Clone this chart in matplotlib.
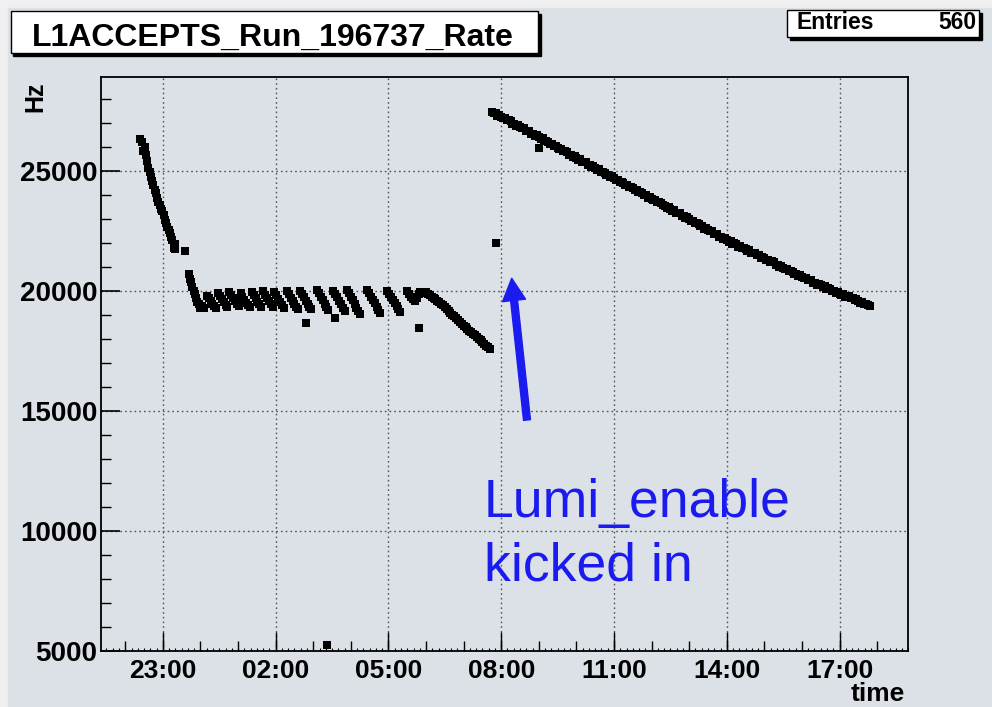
import matplotlib
matplotlib.use("Agg")
import matplotlib.pyplot as plt
from matplotlib.patches import Rectangle
from matplotlib.ticker import FixedLocator, MultipleLocator

plt.rcParams['font.family'] = ['Liberation Sans', 'DejaVu Sans']

# time in minutes relative to 00:00 of the second day, rate in Hz
t_fall = [-96, -93, -91, -89, -87, -85, -83, -81, -79, -77, -75, -73, -71, -69, -67,
          -65, -63, -61, -59, -57, -55, -53, -51, -49, -47, -45, -43, -41, -40]
r_fall = [26300, 26200, 25800, 26000, 25650, 25400, 25100, 24950, 24750, 24550, 24400,
          24200, 24050, 23850, 23700, 23550, 23400, 23300, 23150, 22950, 22800, 22650,
          22550, 22400, 22250, 22100, 21800, 21950, 21750]

t_settle = [-19, -17, -15, -13, -11, -9, -7, -5, -3, 0, 3, 6]
r_settle = [20700, 20500, 20350, 20150, 20000, 19850, 19700, 19550, 19450, 19300, 19350, 19300]

t_plateau = [10, 13, 16, 19, 22, 25,
             28, 31, 34, 37, 40, 43,
             46, 49, 52, 55, 58, 61,
             64, 67, 70, 73, 76, 79,
             82, 85, 88, 91, 94, 97,
             100, 103, 106, 109, 112, 115,
             118, 121, 124, 127, 130, 133,
             138, 141, 144, 147, 150, 153, 156,
             159, 162, 165, 168, 171, 174, 177,
             186, 189, 192, 195, 198, 201, 204,
             212, 215, 218, 221, 224, 227, 230,
             234, 237, 240, 243, 246, 249, 252, 255,
             266, 269, 272, 275, 278, 281, 284, 287,
             298, 301, 304, 307, 310, 313, 316, 319,
             330, 333, 336, 339, 342, 345, 348, 351, 354]
r_plateau = [19800, 19680, 19560, 19450, 19360, 19300,
             19900, 19770, 19640, 19520, 19420, 19340,
             19950, 19820, 19690, 19560, 19440, 19350,
             19900, 19760, 19630, 19510, 19400, 19310,
             19950, 19810, 19680, 19550, 19430, 19330,
             19980, 19840, 19700, 19570, 19450, 19340,
             19950, 19810, 19670, 19540, 19420, 19300,
             20000, 19850, 19710, 19580, 19450, 19330, 19250,
             20000, 19860, 19720, 19580, 19450, 19330, 19220,
             20050, 19900, 19750, 19600, 19460, 19320, 19180,
             20000, 19860, 19720, 19580, 19440, 19300, 19160,
             20050, 19900, 19750, 19600, 19450, 19300, 19150, 19050,
             20050, 19900, 19760, 19620, 19480, 19340, 19200, 19080,
             20000, 19870, 19740, 19610, 19480, 19350, 19230, 19120,
             20000, 19880, 19760, 19650, 19560, 19700, 19850, 19950, 19900]

t_drop = [360, 363, 366, 369, 372, 375, 378, 381, 384, 387, 390, 393, 396, 399, 402,
          405, 408, 411, 414, 417, 420, 423, 426, 429, 432, 435, 438, 441, 444, 447,
          450, 453, 456, 459, 462]
r_drop = [19950, 19880, 19830, 19760, 19700, 19640, 19580, 19520, 19460, 19400, 19330,
          19250, 19170, 19090, 19010, 18940, 18860, 18780, 18700, 18630, 18550, 18480,
          18410, 18340, 18270, 18200, 18140, 18070, 18000, 17930, 17860, 17790, 17720,
          17650, 17560]

t_lumi = [465, 468, 471, 474, 477, 480, 483, 486, 489, 492,
          495, 498, 501, 504, 507, 510, 513, 516, 519, 522,
          525, 528, 531, 534, 537, 540, 543, 546, 549, 552,
          555, 558, 561, 564, 567, 570, 573, 576, 579, 582,
          585, 588, 591, 594, 597, 600, 603, 606, 609, 612,
          615, 618, 621, 624, 627, 630, 633, 636, 639, 642,
          645, 648, 651, 654, 657, 660, 663, 666, 669, 672,
          675, 678, 681, 684, 687, 690, 693, 696, 699, 702,
          705, 708, 711, 714, 717, 720, 723, 726, 729, 732,
          735, 738, 741, 744, 747, 750, 753, 756, 759, 762,
          765, 768, 771, 774, 777, 780, 783, 786, 789, 792,
          795, 798, 801, 804, 807, 810, 813, 816, 819, 822,
          825, 828, 831, 834, 837, 840, 843, 846, 849, 852,
          855, 858, 861, 864, 867, 870, 873, 876, 879, 882,
          885, 888, 891, 894, 897, 900, 903, 906, 909, 912,
          915, 918, 921, 924, 927, 930, 933, 936, 939, 942,
          945, 948, 951, 954, 957, 960, 963, 966, 969, 972,
          975, 978, 981, 984, 987, 990, 993, 996, 999, 1002,
          1005, 1008, 1011, 1014, 1017, 1020, 1023, 1026, 1029, 1032,
          1035, 1038, 1041, 1044, 1047, 1050, 1053, 1056, 1059, 1062,
          1065, 1068]
r_lumi = [27460, 27390, 27390, 27290, 27330, 27250, 27180, 27190, 27090, 27100,
          27060, 26960, 26960, 26870, 26900, 26820, 26760, 26770, 26660, 26670,
          26640, 26540, 26530, 26440, 26480, 26390, 26330, 26340, 26240, 26240,
          26210, 26110, 26100, 26010, 26040, 25960, 25900, 25900, 25800, 25800,
          25770, 25670, 25660, 25570, 25610, 25520, 25460, 25470, 25370, 25370,
          25340, 25240, 25240, 25140, 25180, 25100, 25040, 25050, 24940, 24950,
          24920, 24820, 24820, 24720, 24760, 24680, 24620, 24630, 24520, 24530,
          24500, 24400, 24400, 24300, 24340, 24260, 24200, 24210, 24100, 24110,
          24080, 23980, 23970, 23880, 23920, 23840, 23770, 23780, 23680, 23680,
          23650, 23550, 23540, 23450, 23490, 23400, 23340, 23350, 23250, 23250,
          23220, 23120, 23110, 23020, 23060, 22980, 22910, 22920, 22820, 22820,
          22790, 22690, 22680, 22590, 22620, 22540, 22480, 22480, 22380, 22380,
          22350, 22250, 22250, 22160, 22200, 22120, 22050, 22060, 21960, 21970,
          21940, 21840, 21850, 21760, 21800, 21720, 21670, 21680, 21580, 21590,
          21560, 21470, 21470, 21380, 21420, 21350, 21290, 21300, 21200, 21220,
          21190, 21090, 21090, 21000, 21040, 20960, 20910, 20920, 20820, 20830,
          20790, 20690, 20700, 20610, 20660, 20580, 20520, 20540, 20440, 20460,
          20430, 20330, 20340, 20250, 20300, 20220, 20160, 20180, 20080, 20100,
          20070, 19980, 19990, 19900, 19950, 19880, 19830, 19850, 19750, 19770,
          19770, 19680, 19680, 19600, 19640, 19570, 19510, 19530, 19430, 19450,
          19400, 19360]

t_out = [-24, 168, 202, 215, 349, 471, 541]
r_out = [21650, 18650, 5250, 18850, 18450, 22000, 25950]

tick_pos = [-60, 120, 300, 480, 660, 840, 1020]
tick_labels = ["23:00", "02:00", "05:00", "08:00", "11:00", "14:00", "17:00"]
n_entries = 560

bg = '#dbe1e7'
fig = plt.figure(figsize=(9.92, 7.07), dpi=100, facecolor='#f0f0f0')
fig.patches.append(Rectangle((8 / 992, 0), 1, 1 - 8 / 707, transform=fig.transFigure,
                             color=bg, zorder=-10))

ax = fig.add_axes([0.1023, 0.0792, 0.8135, 0.8119])
ax.set_facecolor(bg)

for tt, rr in [(t_fall, r_fall), (t_settle, r_settle), (t_plateau, r_plateau),
               (t_drop, r_drop), (t_lumi, r_lumi), (t_out, r_out)]:
    ax.plot(tt, rr, 's', color='black', ms=5.7, mew=0, zorder=3)

ax.set_xlim(-158, 1130)
ax.set_ylim(5000, 28900)

ax.xaxis.set_major_locator(FixedLocator(tick_pos))
ax.set_xticklabels(tick_labels)
ax.xaxis.set_minor_locator(MultipleLocator(10))
ax.yaxis.set_major_locator(MultipleLocator(5000))
ax.yaxis.set_minor_locator(MultipleLocator(1000))

ax.tick_params(which='both', direction='in', top=False, right=False, color='black')
ax.tick_params(axis='y', which='major', length=14, width=1.2, pad=3, labelsize=20)
ax.tick_params(axis='y', which='minor', length=7, width=1)
ax.tick_params(axis='x', which='major', length=14, width=1, pad=6, labelsize=19)
ax.tick_params(axis='x', which='minor', length=2.5, width=0.8)
for lab in ax.get_xticklabels() + ax.get_yticklabels():
    lab.set_fontweight('bold')

# hour ticks
sec = ax.secondary_xaxis('bottom')
sec.xaxis.set_major_locator(MultipleLocator(60))
sec.tick_params(direction='in', length=7, width=1, labelbottom=False)
sec.spines['bottom'].set_visible(False)

ax.grid(True, which='major', color='#555555', linestyle=(0, (1.2, 2.2)), linewidth=1)
for s in ax.spines.values():
    s.set_linewidth(1.3)

# title box with shadow
fig.patches.append(Rectangle((0.0106 + 0.003, 0.9256 - 0.0042), 0.532, 0.0594,
                             transform=fig.transFigure, color='black', zorder=1))
fig.patches.append(Rectangle((0.0106, 0.9256), 0.532, 0.0594, transform=fig.transFigure,
                             facecolor='white', edgecolor='black', lw=1, zorder=2))
fig.text(0.2752, 0.9355, "L1ACCEPTS_Run_196737_Rate", ha='center', va='baseline',
         fontsize=23, fontweight='bold', zorder=3)

# stats box with shadow
fig.patches.append(Rectangle((0.793 + 0.003, 0.9477 - 0.0042), 0.1939, 0.0382,
                             transform=fig.transFigure, color='black', zorder=1))
fig.patches.append(Rectangle((0.793, 0.9477), 0.1939, 0.0382, transform=fig.transFigure,
                             facecolor='white', edgecolor='black', lw=1, zorder=2))
fig.text(0.8034, 0.9585, "Entries", ha='left', va='baseline', fontsize=16.5,
         fontweight='bold', zorder=3)
fig.text(0.984, 0.9585, str(n_entries), ha='right', va='baseline', fontsize=16.5,
         fontweight='bold', zorder=3)

fig.text(0.0353, 0.8628, "Hz", rotation=90, ha='center', va='center', fontsize=18,
         fontweight='bold')
fig.text(0.912, 0.009, "time", ha='right', va='baseline', fontsize=19, fontweight='bold')

# annotation
blue = '#1b1bf0'
fig.text(0.488, 0.2687, "Lumi_enable", color=blue, fontsize=38.5, va='baseline', ha='left')
fig.text(0.488, 0.1796, "kicked in", color=blue, fontsize=38.5, va='baseline', ha='left')
ax.annotate("", xy=(511.7 / 992, 1 - 278.3 / 707), xycoords='figure fraction',
            xytext=(527 / 992, 1 - 420 / 707), textcoords='figure fraction',
            arrowprops=dict(arrowstyle='simple,head_length=1.6,head_width=1.66,tail_width=0.5',
                            mutation_scale=10, color=blue, shrinkA=0, shrinkB=0))

fig.savefig('out.png', dpi=100, facecolor=fig.get_facecolor())
